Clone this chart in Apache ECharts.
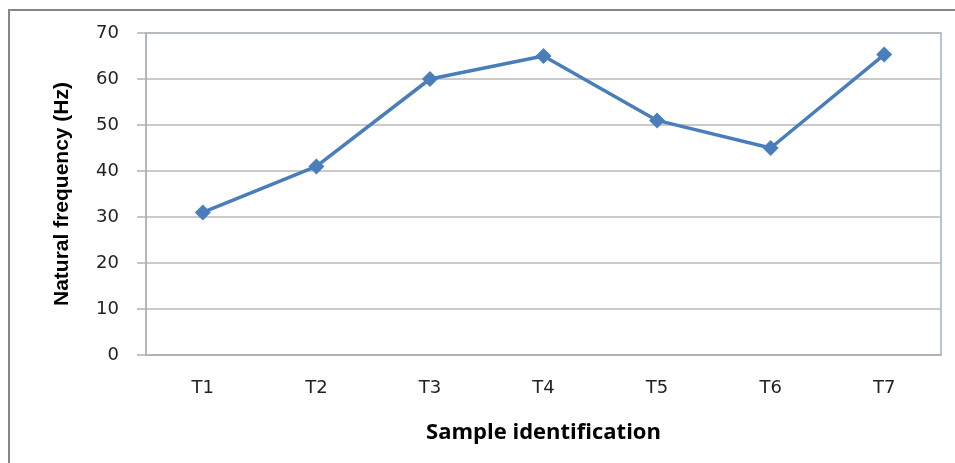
<!DOCTYPE html>
<html>
<head>
<meta charset="utf-8">
<script src="https://cdn.jsdelivr.net/npm/echarts@6/dist/echarts.min.js"></script>
<style>
html, body { margin: 0; padding: 0; background: #fff; }
#frame { position: absolute; left: 8px; top: 9px; width: 960px; height: 470px; border: 2px solid #868686; box-sizing: border-box; }
#chart { position: absolute; left: 0; top: 0; width: 955px; height: 463px; }
</style>
</head>
<body>
<div id="frame"></div>
<div id="chart"></div>
<script>
let samples = ['T1', 'T2', 'T3', 'T4', 'T5', 'T6', 'T7'];
let freqs = [31, 41, 60, 65, 51, 45, 65.3];

let chart = echarts.init(document.getElementById('chart'));

let option = {
	animation: false,
	grid: {
		left: 146,
		top: 33,
		width: 795,
		height: 322,
		show: true,
		borderColor: '#95b3d7',
		borderWidth: 1.5
	},
	xAxis: {
		type: 'category',
		data: samples,
		boundaryGap: true,
		name: 'Sample identification',
		nameLocation: 'middle',
		nameGap: 67,
		nameTextStyle: { fontFamily: 'Open Sans', fontWeight: 'bold', fontSize: 22, color: '#000' },
		axisLine: { lineStyle: { color: '#b3b3b3', width: 2 } },
		axisTick: { show: false },
		axisLabel: { fontFamily: 'DejaVu Sans', fontSize: 18, color: '#222', margin: 24 }
	},
	yAxis: {
		type: 'value',
		min: 0,
		max: 70,
		interval: 10,
		name: 'Natural frequency (Hz)',
		nameLocation: 'middle',
		nameGap: 73,
		nameTextStyle: { fontFamily: 'Liberation Sans', fontWeight: 'bold', fontSize: 21, color: '#000' },
		axisLine: { show: true, lineStyle: { color: '#b3b3b3', width: 1.5 } },
		axisTick: { show: true, inside: false, length: 9, lineStyle: { color: '#b3b3b3', width: 1.5 } },
		splitLine: { lineStyle: { color: '#b8b8b8', width: 1.5 } },
		axisLabel: { fontFamily: 'DejaVu Sans', fontSize: 18, color: '#222', margin: 27 }
	},
	series: [{
		type: 'line',
		data: freqs,
		symbol: 'diamond',
		symbolSize: 16,
		lineStyle: { color: '#4a7ebb', width: 3.5 },
		itemStyle: { color: '#4a7ebb' }
	}]
};

chart.setOption(option);
</script>
</body>
</html>
